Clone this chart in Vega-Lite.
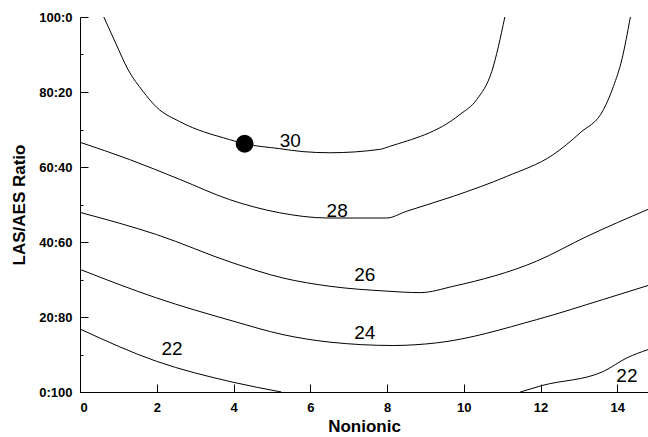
{
  "$schema": "https://vega.github.io/schema/vega-lite/v6.json",
  "width": 568,
  "height": 375,
  "autosize": {"type": "none"},
  "padding": {"left": 80, "top": 17, "right": 0, "bottom": 45},
  "config": {
    "view": {"stroke": null},
    "font": "Liberation Sans",
    "axis": {
      "domainColor": "black",
      "tickColor": "black",
      "labelColor": "black",
      "titleColor": "black",
      "grid": false,
      "labelFont": "Liberation Sans",
      "titleFont": "Liberation Sans",
      "labelFontWeight": "bold",
      "labelFontSize": 13,
      "titleFontWeight": "bold",
      "titleFontSize": 17
    }
  },
  "resolve": {"axis": {"y": "independent"}},
  "datasets": {
    "contours": [
      {"level": "30", "x": 0.62, "y": 100},
      {"level": "30", "x": 0.94, "y": 92.8},
      {"level": "30", "x": 1.25, "y": 86.0},
      {"level": "30", "x": 1.64, "y": 80.2},
      {"level": "30", "x": 2.0, "y": 75.9},
      {"level": "30", "x": 2.6, "y": 72.1},
      {"level": "30", "x": 3.9, "y": 67.3},
      {"level": "30", "x": 4.29, "y": 66.2},
      {"level": "30", "x": 5.2, "y": 64.9},
      {"level": "30", "x": 5.81, "y": 64.1},
      {"level": "30", "x": 6.51, "y": 63.8},
      {"level": "30", "x": 7.81, "y": 64.7},
      {"level": "30", "x": 8.07, "y": 65.5},
      {"level": "30", "x": 9.9, "y": 74.0},
      {"level": "30", "x": 10.34, "y": 78.0},
      {"level": "30", "x": 10.73, "y": 85.5},
      {"level": "30", "x": 11.07, "y": 100},
      {"level": "28", "x": 0, "y": 66.6},
      {"level": "28", "x": 1.29, "y": 62.0},
      {"level": "28", "x": 2.6, "y": 56.7},
      {"level": "28", "x": 3.9, "y": 51.3},
      {"level": "28", "x": 5.2, "y": 47.8},
      {"level": "28", "x": 6.46, "y": 46.4},
      {"level": "28", "x": 7.99, "y": 46.4},
      {"level": "28", "x": 8.51, "y": 48.2},
      {"level": "28", "x": 9.73, "y": 52.2},
      {"level": "28", "x": 11.12, "y": 57.5},
      {"level": "28", "x": 12.33, "y": 63.3},
      {"level": "28", "x": 13.03, "y": 69.1},
      {"level": "28", "x": 13.64, "y": 75.3},
      {"level": "28", "x": 13.9, "y": 81.5},
      {"level": "28", "x": 14.12, "y": 88.7},
      {"level": "28", "x": 14.34, "y": 100},
      {"level": "26", "x": 0, "y": 47.9},
      {"level": "26", "x": 1.99, "y": 42.0},
      {"level": "26", "x": 3.99, "y": 34.4},
      {"level": "26", "x": 5.29, "y": 30.4},
      {"level": "26", "x": 6.51, "y": 28.2},
      {"level": "26", "x": 7.99, "y": 26.9},
      {"level": "26", "x": 8.86, "y": 26.5},
      {"level": "26", "x": 9.73, "y": 28.2},
      {"level": "26", "x": 11.9, "y": 34.9},
      {"level": "26", "x": 13.21, "y": 41.5},
      {"level": "26", "x": 14.8, "y": 48.7},
      {"level": "24", "x": 0, "y": 32.7},
      {"level": "24", "x": 1.99, "y": 25.1},
      {"level": "24", "x": 3.99, "y": 18.9},
      {"level": "24", "x": 5.29, "y": 15.3},
      {"level": "24", "x": 6.51, "y": 13.3},
      {"level": "24", "x": 8.16, "y": 12.4},
      {"level": "24", "x": 9.29, "y": 13.1},
      {"level": "24", "x": 11.9, "y": 19.3},
      {"level": "24", "x": 13.64, "y": 24.7},
      {"level": "24", "x": 14.8, "y": 28.4},
      {"level": "22a", "x": 0, "y": 16.8},
      {"level": "22a", "x": 1.99, "y": 8.2},
      {"level": "22a", "x": 3.99, "y": 2.6},
      {"level": "22a", "x": 5.25, "y": 0},
      {"level": "22b", "x": 11.47, "y": 0},
      {"level": "22b", "x": 12.03, "y": 1.7},
      {"level": "22b", "x": 13.64, "y": 5.5},
      {"level": "22b", "x": 14.25, "y": 9.1},
      {"level": "22b", "x": 14.8, "y": 11.3}
    ],
    "labels": [
      {"text": "30", "x": 5.48, "y": 66.9},
      {"text": "28", "x": 6.7, "y": 48.2},
      {"text": "26", "x": 7.42, "y": 31.1},
      {"text": "24", "x": 7.42, "y": 15.8},
      {"text": "22", "x": 2.4, "y": 11.5},
      {"text": "22", "x": 14.25, "y": 4.2}
    ],
    "optimum": [
      {"x": 4.29, "y": 66.2}
    ]
  },
  "layer": [
    {
      "data": {"name": "contours"},
      "mark": {"type": "line", "color": "black", "strokeWidth": 1, "interpolate": "monotone", "clip": true},
      "encoding": {
        "x": {
          "field": "x", "type": "quantitative",
          "scale": {"domain": [0, 14.8], "nice": false, "zero": false},
          "axis": {
            "title": "Nonionic",
            "values": [0, 2, 4, 6, 8, 10, 12, 14],
            "tickSize": -8,
            "labelPadding": 17,
            "titlePadding": 4
          }
        },
        "y": {
          "field": "y", "type": "quantitative",
          "scale": {"domain": [0, 100], "nice": false, "zero": false},
          "axis": {
            "title": "LAS/AES Ratio",
            "orient": "left",
            "values": [0, 20, 40, 60, 80, 100],
            "labelExpr": "datum.value + ':' + (100 - datum.value)",
            "tickSize": -8,
            "labelPadding": 16,
            "titlePadding": 10
          }
        },
        "detail": {"field": "level", "type": "nominal"}
      }
    },
    {
      "data": {"name": "labels"},
      "mark": {"type": "text", "fontSize": 19, "color": "black", "align": "center", "baseline": "middle", "font": "Liberation Sans"},
      "encoding": {
        "x": {"field": "x", "type": "quantitative"},
        "y": {
          "field": "y", "type": "quantitative",
          "axis": {
            "orient": "left",
            "values": [10, 30, 50, 70, 90],
            "tickSize": -3,
            "labels": false,
            "domain": false,
            "title": null
          }
        },
        "text": {"field": "text", "type": "nominal"}
      }
    },
    {
      "data": {"name": "optimum"},
      "mark": {"type": "point", "filled": true, "color": "black", "opacity": 1, "size": 320, "shape": "circle"},
      "encoding": {
        "x": {"field": "x", "type": "quantitative"},
        "y": {"field": "y", "type": "quantitative", "axis": null}
      }
    }
  ]
}
